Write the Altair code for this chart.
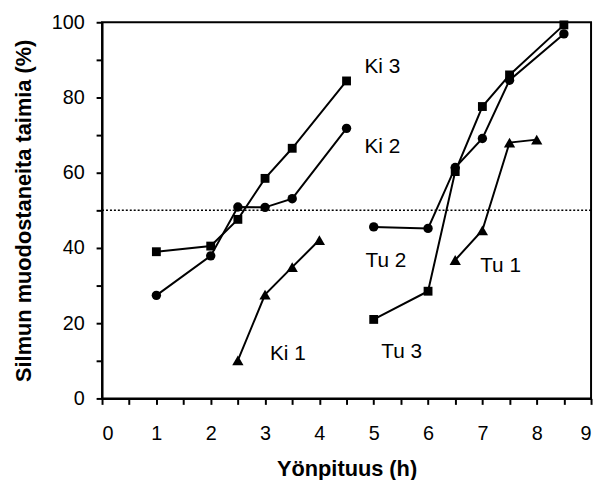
import altair as alt
import pandas as pd

# Series data
ki3_x = [1, 2, 2.5, 3, 3.5, 4.5]
ki3_y = [39.0, 40.5, 47.6, 58.5, 66.5, 84.4]
ki2_x = [1, 2, 2.5, 3, 3.5, 4.5]
ki2_y = [27.4, 37.9, 50.9, 50.8, 53.1, 71.8]
ki1_x = [2.5, 3, 3.5, 4]
ki1_y = [10.1, 27.6, 34.9, 42.1]
tu2_x = [5, 6, 6.5, 7, 7.5, 8.5]
tu2_y = [45.6, 45.2, 61.4, 69.1, 84.6, 96.9]
tu3_x = [5, 6, 6.5, 7, 7.5, 8.5]
tu3_y = [21.0, 28.5, 60.3, 77.6, 86.0, 99.3]
tu1_x = [6.5, 7, 7.5, 8]
tu1_y = [36.8, 44.7, 68.0, 68.8]

series_names = ["Ki 3", "Ki 2", "Ki 1", "Tu 2", "Tu 3", "Tu 1"]
series_shapes = ["square", "circle", "triangle-up", "circle", "square", "triangle-up"]
shape_sizes = {"square": 80, "circle": 90, "triangle-up": 130}

# Label positions (data coordinates)
label_text = ["Ki 3", "Ki 2", "Ki 1", "Tu 2", "Tu 1", "Tu 3"]
label_x = [4.83, 4.83, 3.09, 4.85, 6.96, 5.14]
label_y = [88.2, 66.7, 11.8, 36.4, 35.1, 12.4]

x_ticks = [i * 0.5 for i in range(19)]
y_ticks = list(range(0, 101, 10))
ref_y = 50

rows = []
for name, shape, xs, ys in zip(
    series_names, series_shapes,
    [ki3_x, ki2_x, ki1_x, tu2_x, tu3_x, tu1_x],
    [ki3_y, ki2_y, ki1_y, tu2_y, tu3_y, tu1_y],
):
    for x, y in zip(xs, ys):
        rows.append({"series": name, "shape": shape, "msize": shape_sizes[shape], "x": x, "y": y})
df = pd.DataFrame(rows)
labels = pd.DataFrame({"text": label_text, "x": label_x, "y": label_y})
refdf = pd.DataFrame({"x": [0], "x2": [9], "y": [ref_y]})

FONT = "Liberation Sans"

xscale = alt.Scale(domain=[0, 9], nice=False, zero=False)
yscale = alt.Scale(domain=[0, 100], nice=False)

xaxis = alt.Axis(
    title="Yönpituus (h)", values=x_ticks,
    labelExpr="datum.value % 1 == 0 ? format(datum.value, 'd') : ''",
    grid=False, tickSize=6, tickWidth=2, domainWidth=2, domainColor="black",
    tickColor="black", labelFontSize=20, labelFont=FONT, labelColor="black",
    labelPadding=19, titleFontSize=22, titleFont=FONT, titleFontWeight="bold",
    titleColor="black", titlePadding=16,
)
yaxis = alt.Axis(
    title="Silmun muodostaneita taimia (%)", values=y_ticks,
    labelExpr="datum.value % 20 == 0 ? format(datum.value, 'd') : ''",
    grid=False, tickSize=6, tickWidth=2, domainWidth=2, domainColor="black",
    tickColor="black", labelFontSize=20, labelFont=FONT, labelColor="black",
    labelPadding=12, titleFontSize=22, titleFont=FONT, titleFontWeight="bold",
    titleColor="black", titlePadding=16,
)

ref = alt.Chart(refdf).mark_rule(color="black", strokeWidth=1.5, strokeDash=[2, 2]).encode(
    x=alt.X("x:Q", scale=xscale, axis=xaxis), x2="x2:Q",
    y=alt.Y("y:Q", scale=yscale, axis=yaxis),
)

lines = alt.Chart(df).mark_line(color="black", strokeWidth=2).encode(
    x=alt.X("x:Q", scale=xscale, axis=xaxis),
    y=alt.Y("y:Q", scale=yscale, axis=yaxis),
    detail="series:N",
)

points = alt.Chart(df).mark_point(filled=True, color="black", opacity=1).encode(
    x=alt.X("x:Q", scale=xscale, axis=xaxis),
    y=alt.Y("y:Q", scale=yscale, axis=yaxis),
    shape=alt.Shape("shape:N", scale=None),
    size=alt.Size("msize:Q", scale=None),
)

texts = alt.Chart(labels).mark_text(
    align="left", baseline="middle", fontSize=21, font=FONT, color="black"
).encode(
    x=alt.X("x:Q", scale=xscale, axis=xaxis),
    y=alt.Y("y:Q", scale=yscale, axis=yaxis),
    text="text:N",
)

chart = alt.layer(ref, lines, points, texts).properties(
    width=494, height=380,
    autosize=alt.AutoSizeParams(type="none"),
    padding={"left": 95, "top": 12, "right": 5, "bottom": 80},
    background="white",
).configure_view(stroke="black", strokeWidth=2)

chart.save("out.html", embed_options={"renderer": "svg", "actions": False})
